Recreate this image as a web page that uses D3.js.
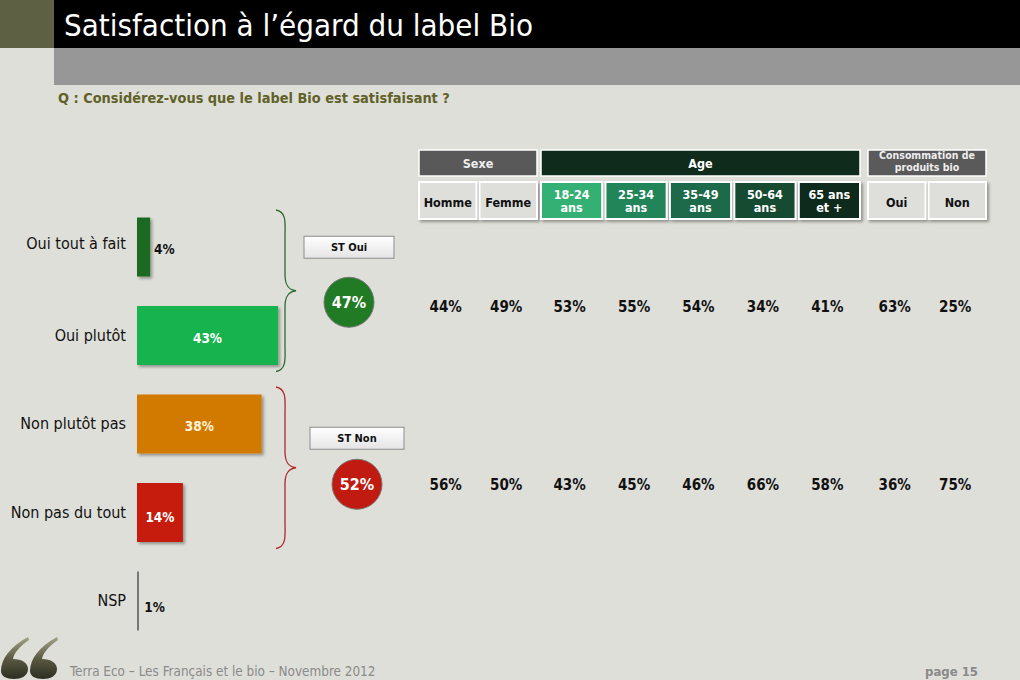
<!DOCTYPE html>
<html>
<head>
<meta charset="utf-8">
<script src="https://cdn.jsdelivr.net/npm/d3@7"></script>
<style>
  body { margin: 0; background: #dfdfd9; }
  svg { display: block; font-family: "DejaVu Sans Condensed", "DejaVu Sans", sans-serif; }
</style>
</head>
<body>
<div id="chart"></div>
<script>
// data
var answers = ["Oui tout à fait", "Oui plutôt", "Non plutôt pas", "Non pas du tout", "NSP"];
var answerValues = [4, 43, 38, 14, 1];
var answerColors = ["#1f6a22", "#14b34f", "#d27a06", "#c51c0c", "#777777"];

var totals = ["ST Oui", "ST Non"];
var totalValues = [47, 52];
var totalColors = ["#217a24", "#c11a10"];

var groups = ["Sexe", "Age", "Consommation de\nproduits bio"];
var columns = ["Homme", "Femme", "18-24\nans", "25-34\nans", "35-49\nans", "50-64\nans", "65 ans\net +", "Oui", "Non"];
var columnGroup = [0, 0, 1, 1, 1, 1, 1, 2, 2];
var ouiByColumn = [44, 49, 53, 55, 54, 34, 41, 63, 25];
var nonByColumn = [56, 50, 43, 45, 46, 66, 58, 36, 75];

var svgWidth = 1020;
var svgHeight = 680;

var svg = d3.select("#chart")
    .append("svg")
    .attr("width", svgWidth)
    .attr("height", svgHeight);

var defs = svg.append("defs");

var shadow = defs.append("filter").attr("id", "shadow")
    .attr("x", "-20%").attr("y", "-20%").attr("width", "150%").attr("height", "150%");
shadow.append("feDropShadow")
    .attr("dx", 2).attr("dy", 2).attr("stdDeviation", 1.5)
    .attr("flood-color", "#000").attr("flood-opacity", 0.35);

var boxGrad = defs.append("linearGradient").attr("id", "boxGrad")
    .attr("x1", 0).attr("y1", 0).attr("x2", 0).attr("y2", 1);
boxGrad.append("stop").attr("offset", "0%").attr("stop-color", "#ffffff");
boxGrad.append("stop").attr("offset", "100%").attr("stop-color", "#e4e4e4");

var quoteGrad = defs.append("linearGradient").attr("id", "quoteGrad")
    .attr("x1", 0).attr("y1", 0).attr("x2", 0).attr("y2", 1);
quoteGrad.append("stop").attr("offset", "0%").attr("stop-color", "#a2a288");
quoteGrad.append("stop").attr("offset", "55%").attr("stop-color", "#56563f");
quoteGrad.append("stop").attr("offset", "100%").attr("stop-color", "#2e2e22");

// background + header
svg.append("rect").attr("width", svgWidth).attr("height", svgHeight).attr("fill", "#dfdfd9");
svg.append("rect").attr("x", 0).attr("y", 0).attr("width", 54).attr("height", 48).attr("fill", "#5d6043");
svg.append("rect").attr("x", 54).attr("y", 0).attr("width", svgWidth - 54).attr("height", 48).attr("fill", "#000");
svg.append("rect").attr("x", 54).attr("y", 48).attr("width", svgWidth - 54).attr("height", 37).attr("fill", "#979797");

svg.append("text")
    .attr("x", 64).attr("y", 36)
    .attr("fill", "#fff")
    .attr("font-size", "31px")
    .text("Satisfaction à l’égard du label Bio");

svg.append("text")
    .attr("x", 58).attr("y", 103)
    .attr("fill", "#5f6128")
    .attr("font-size", "14.4px")
    .attr("font-weight", "700")
    .text("Q : Considérez-vous que le label Bio est satisfaisant ?");

// scales for the bars
var xScale = d3.scaleLinear().domain([0, 100]).range([0, 328]);
var yScale = d3.scalePoint().domain(answers).range([247, 601]);
var barX = 137;
var barH = 59;

var bars = svg.append("g");

bars.selectAll("rect.bar")
    .data(answers)
    .enter()
    .append("rect")
    .attr("class", "bar")
    .attr("x", barX)
    .attr("y", d => yScale(d) - barH / 2)
    .attr("width", (d, i) => i == 4 ? 2 : xScale(answerValues[i]))
    .attr("height", barH)
    .attr("fill", (d, i) => answerColors[i])
    .attr("filter", (d, i) => i == 4 ? null : "url(#shadow)");

bars.selectAll("text.cat")
    .data(answers)
    .enter()
    .append("text")
    .attr("class", "cat")
    .attr("x", 126)
    .attr("y", (d, i) => yScale(d) + (i == 0 ? 2 : 5))
    .attr("text-anchor", "end")
    .attr("font-size", "16px")
    .attr("fill", "#111")
    .text(d => d);

// value labels: inside the bar when it is wide enough, else right of it
bars.selectAll("text.val")
    .data(answers)
    .enter()
    .append("text")
    .attr("class", "val")
    .attr("x", (d, i) => xScale(answerValues[i]) > 30 ? barX + xScale(answerValues[i]) / 2 : barX + xScale(answerValues[i]) + 4)
    .attr("y", (d, i) => yScale(d) + (i == 4 ? 11 : i == 3 ? 9 : 7))
    .attr("text-anchor", (d, i) => xScale(answerValues[i]) > 30 ? "middle" : "start")
    .attr("font-size", "13.5px")
    .attr("font-weight", "700")
    .attr("fill", (d, i) => xScale(answerValues[i]) > 30 ? (i == 2 ? "#fdf3d8" : "#fff") : "#111")
    .text((d, i) => answerValues[i] + "%");

// braces grouping oui / non
var braceColors = ["#2f6b2f", "#b3262a"];
var braceSpans = [[answers[0], answers[1]], [answers[2], answers[3]]];
var circleX = [349, 357];

function bracePath(top, bottom) {
    var mid = (top + bottom) / 2;
    var x0 = 276, x1 = 285, x2 = 296;
    return "M" + x0 + "," + top +
        " C" + (x1 + 2) + "," + (top + 2) + " " + x1 + "," + (top + 14) + " " + x1 + "," + (top + 26) +
        " L" + x1 + "," + (mid - 16) +
        " C" + x1 + "," + (mid - 6) + " " + (x1 + 3) + "," + (mid - 1) + " " + x2 + "," + mid +
        " C" + (x1 + 3) + "," + (mid + 1) + " " + x1 + "," + (mid + 6) + " " + x1 + "," + (mid + 16) +
        " L" + x1 + "," + (bottom - 26) +
        " C" + x1 + "," + (bottom - 14) + " " + (x1 + 2) + "," + (bottom - 2) + " " + x0 + "," + bottom;
}

var st = svg.append("g");

st.selectAll("path.brace")
    .data(totals)
    .enter()
    .append("path")
    .attr("class", "brace")
    .attr("d", (d, i) => bracePath(yScale(braceSpans[i][0]) - 37, yScale(braceSpans[i][1]) + 36))
    .attr("fill", "none")
    .attr("stroke", (d, i) => braceColors[i])
    .attr("stroke-width", 1.3);

var circleY = totals.map((d, i) => (yScale(braceSpans[i][0]) + yScale(braceSpans[i][1])) / 2 + (i == 0 ? 11 : 16));

st.selectAll("rect.stbox")
    .data(totals)
    .enter()
    .append("rect")
    .attr("class", "stbox")
    .attr("x", (d, i) => circleX[i] - (i == 0 ? 45 : 47))
    .attr("y", (d, i) => circleY[i] - (i == 0 ? 66 : 57))
    .attr("width", (d, i) => i == 0 ? 90 : 94)
    .attr("height", 22)
    .attr("fill", "url(#boxGrad)")
    .attr("stroke", "#8c8c8c")
    .attr("stroke-width", 1);

st.selectAll("text.stlabel")
    .data(totals)
    .enter()
    .append("text")
    .attr("class", "stlabel")
    .attr("x", (d, i) => circleX[i])
    .attr("y", (d, i) => circleY[i] - (i == 0 ? 51 : 42))
    .attr("text-anchor", "middle")
    .attr("font-size", "11px")
    .attr("font-weight", "700")
    .attr("fill", "#111")
    .text(d => d);

st.selectAll("circle")
    .data(totals)
    .enter()
    .append("circle")
    .attr("cx", (d, i) => circleX[i])
    .attr("cy", (d, i) => circleY[i])
    .attr("r", 25)
    .attr("fill", (d, i) => totalColors[i])
    .attr("stroke", "#777")
    .attr("stroke-width", 1);

st.selectAll("text.stval")
    .data(totals)
    .enter()
    .append("text")
    .attr("class", "stval")
    .attr("x", (d, i) => circleX[i])
    .attr("y", (d, i) => circleY[i] + 6)
    .attr("text-anchor", "middle")
    .attr("font-size", "16px")
    .attr("font-weight", "700")
    .attr("fill", "#fff")
    .text((d, i) => totalValues[i] + "%");

// cross table: one band scale per group of columns
var groupRanges = [[419, 537], [541, 860], [868, 986]];
var groupScales = groups.map((g, gi) => d3.scaleBand()
    .domain(columns.filter((c, ci) => columnGroup[ci] == gi))
    .range(groupRanges[gi])
    .paddingInner(0.05));
var colX = (c, ci) => groupScales[columnGroup[ci]](c);
var colW = ci => groupScales[columnGroup[ci]].bandwidth();

var groupFill = ["#595959", "#0e2b1c", "#5a5a5a"];
var cellFill = ["#dededa", "#dededa", "#34b074", "#21855a", "#1a6b48", "#134b33", "#0c2c1d", "#dededa", "#dededa"];

var table = svg.append("g");

table.selectAll("rect.group")
    .data(groups)
    .enter()
    .append("rect")
    .attr("class", "group")
    .attr("x", (d, i) => groupRanges[i][0])
    .attr("y", 150)
    .attr("width", (d, i) => groupRanges[i][1] - groupRanges[i][0])
    .attr("height", 26)
    .attr("fill", (d, i) => groupFill[i])
    .attr("stroke", "#fff")
    .attr("stroke-width", 1.5);

table.selectAll("text.group")
    .data(groups)
    .enter()
    .append("text")
    .attr("class", "group")
    .attr("x", (d, i) => (groupRanges[i][0] + groupRanges[i][1]) / 2)
    .attr("y", (d, i) => d.indexOf("\n") > 0 ? 159 : 168)
    .attr("text-anchor", "middle")
    .attr("font-size", (d, i) => d.indexOf("\n") > 0 ? "10.5px" : "12.5px")
    .attr("font-weight", "700")
    .attr("fill", (d, i) => i == 1 ? "#fff" : "#eee")
    .each(function(d) {
        var lines = d.split("\n");
        var t = d3.select(this);
        lines.forEach(function(line, li) {
            t.append("tspan").attr("x", t.attr("x")).attr("dy", li == 0 ? 0 : "1.15em").text(line);
        });
    });

table.selectAll("rect.cell")
    .data(columns)
    .enter()
    .append("rect")
    .attr("class", "cell")
    .attr("x", (d, i) => colX(d, i))
    .attr("y", 182)
    .attr("width", (d, i) => colW(i))
    .attr("height", 37)
    .attr("fill", (d, i) => cellFill[i])
    .attr("stroke", "#fff")
    .attr("stroke-width", 2)
    .attr("filter", "url(#shadow)");

table.selectAll("text.cell")
    .data(columns)
    .enter()
    .append("text")
    .attr("class", "cell")
    .attr("x", (d, i) => colX(d, i) + colW(i) / 2)
    .attr("y", d => d.indexOf("\n") > 0 ? 199 : 207)
    .attr("text-anchor", "middle")
    .attr("font-size", "12.5px")
    .attr("font-weight", "700")
    .attr("fill", (d, i) => columnGroup[i] == 1 ? "#fff" : "#111")
    .each(function(d) {
        var lines = d.split("\n");
        var t = d3.select(this);
        lines.forEach(function(line, li) {
            t.append("tspan").attr("x", t.attr("x")).attr("dy", li == 0 ? 0 : "1.05em").text(line);
        });
    });

var rows = [ouiByColumn, nonByColumn];

table.selectAll("g.row")
    .data(rows)
    .enter()
    .append("g")
    .attr("class", "row")
    .each(function(row, ri) {
        d3.select(this).selectAll("text")
            .data(row)
            .enter()
            .append("text")
            .attr("x", (v, ci) => colX(columns[ci], ci) + colW(ci) / 2 - 2)
            .attr("y", circleY[ri] + (ri == 0 ? 10 : 6))
            .attr("text-anchor", "middle")
            .attr("font-size", "15px")
            .attr("font-weight", "700")
            .attr("fill", "#111")
            .text(v => v + "%");
    });

// footer: the two quote marks of the template
function quoteMark(ox) {
    return "M" + (ox + 0) + ",671" +
        " C" + (ox + 0) + ",659 " + (ox + 9) + ",647 " + (ox + 27) + ",637" +
        " L" + (ox + 28) + ",640" +
        " C" + (ox + 18) + ",647 " + (ox + 13) + ",653 " + (ox + 12) + ",659" +
        " C" + (ox + 21) + ",659 " + (ox + 27) + ",663 " + (ox + 27) + ",669" +
        " C" + (ox + 27) + ",676 " + (ox + 20) + ",679 " + (ox + 13) + ",679" +
        " C" + (ox + 5) + ",679 " + (ox + 0) + ",676 " + (ox + 0) + ",671 Z";
}

svg.selectAll("path.quote")
    .data([1, 30])
    .enter()
    .append("path")
    .attr("class", "quote")
    .attr("d", d => quoteMark(d))
    .attr("fill", "url(#quoteGrad)");

svg.append("text")
    .attr("x", 70).attr("y", 676)
    .attr("font-size", "13.4px")
    .attr("fill", "#8a8a8a")
    .text("Terra Eco – Les Français et le bio – Novembre 2012");

svg.append("text")
    .attr("x", 978).attr("y", 676)
    .attr("text-anchor", "end")
    .attr("font-size", "13px")
    .attr("font-weight", "700")
    .attr("fill", "#8a8a8a")
    .text("page 15");
</script>
</body>
</html>
